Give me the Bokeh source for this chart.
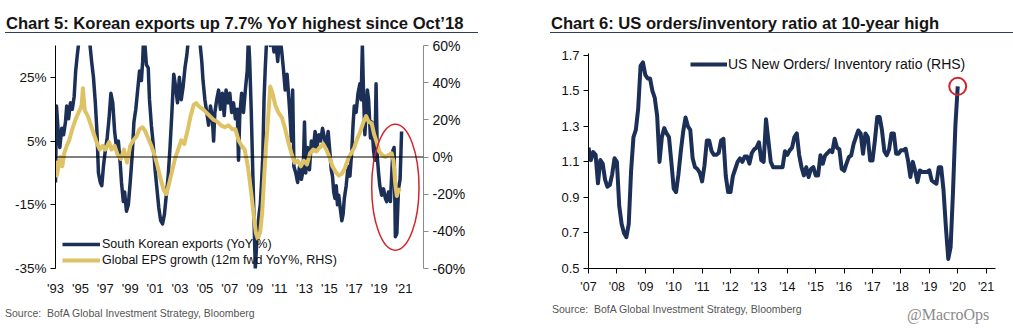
from bokeh.plotting import figure
from bokeh.models import (Range1d, LinearAxis, FixedTicker, PrintfTickFormatter, Span,
                          Legend, LegendItem, Div, ColumnDataSource)
from bokeh.layouts import row, column
from bokeh.embed import file_html
from bokeh.resources import INLINE

# ---------------- Chart 5 data ----------------
kr_dates = [1993.00, 1993.08, 1993.25, 1993.35, 1993.5, 1993.65, 1993.8, 1993.9, 1994.05, 1994.2,
            1994.35, 1994.5, 1994.62, 1994.75, 1994.87, 1995.0, 1995.15, 1995.3, 1995.45, 1995.6,
            1995.75, 1995.9, 1996.05, 1996.2, 1996.33, 1996.45, 1996.6, 1996.72, 1996.85, 1997.0,
            1997.15, 1997.3, 1997.45, 1997.6, 1997.75, 1997.9, 1998.05, 1998.2, 1998.3, 1998.45,
            1998.55, 1998.7, 1998.85, 1999.0, 1999.15, 1999.3, 1999.45, 1999.6, 1999.75, 1999.9,
            2000.0, 2000.08, 2000.17, 2000.3, 2000.45, 2000.55, 2000.7, 2000.85, 2001.0, 2001.15,
            2001.3, 2001.45, 2001.6, 2001.75, 2001.9, 2002.05, 2002.2, 2002.35, 2002.5, 2002.65,
            2002.8, 2002.95, 2003.1, 2003.25, 2003.4, 2003.55, 2003.7, 2003.85, 2004.0, 2004.15,
            2004.3, 2004.45, 2004.6, 2004.75, 2004.85, 2005.0, 2005.15, 2005.3, 2005.45, 2005.6,
            2005.7, 2005.8, 2005.95, 2006.1, 2006.25, 2006.4, 2006.55, 2006.7, 2006.85, 2007.0,
            2007.15, 2007.3, 2007.45, 2007.6, 2007.7, 2007.8, 2007.95, 2008.1, 2008.25, 2008.4,
            2008.5, 2008.6, 2008.72, 2008.85, 2008.95, 2009.05, 2009.15, 2009.25, 2009.35, 2009.45,
            2009.55, 2009.65, 2009.75, 2009.85, 2009.95, 2010.1, 2010.25, 2010.4, 2010.55, 2010.7,
            2010.85, 2011.0, 2011.15, 2011.3, 2011.45, 2011.6, 2011.75, 2011.85, 2011.95, 2012.05,
            2012.15, 2012.3, 2012.45, 2012.6, 2012.75, 2012.9, 2013.0, 2013.1, 2013.25, 2013.4,
            2013.55, 2013.7, 2013.85, 2014.0, 2014.15, 2014.3, 2014.45, 2014.6, 2014.75, 2014.9,
            2015.05, 2015.15, 2015.25, 2015.35, 2015.45, 2015.55, 2015.65, 2015.75, 2015.9, 2016.0,
            2016.1, 2016.2, 2016.35, 2016.5, 2016.65, 2016.8, 2016.9, 2017.0, 2017.15, 2017.3,
            2017.45, 2017.55, 2017.65, 2017.75, 2017.85, 2017.95, 2018.05, 2018.15, 2018.3, 2018.4,
            2018.55, 2018.65, 2018.75, 2018.85, 2018.95, 2019.05, 2019.2, 2019.35, 2019.5, 2019.6,
            2019.75, 2019.9, 2020.0, 2020.1, 2020.2, 2020.3, 2020.42, 2020.55, 2020.68, 2020.8]
kr_exports = [-8, 16, 6, 3, 9, 7, 11, 16, 12, 17,
              15, 19, 27, 32, 36, 40, 37, 41, 38, 40,
              36, 30, 25, 17, 8, -5, -8, -9, -3, 2,
              6, 12, 20, 17, 8, 3, 5, -2, -8, -14,
              -11, -17, -15, -8, 0, 11, 15, 21, 27, 24,
              30, 38, 36, 29, 28, 18, 10, 4, -4, -10,
              -16, -20, -21, -18, -12, -6, 3, 14, 26, 22,
              17, 25, 18, 22, 28, 32, 38, 40, 37, 42,
              40, 38, 36, 30, 24, 18, 14, 10, 16, 12,
              5, 14, 18, 21, 15, 20, 13, 21, 17, 20,
              14, 17, 12, 15, -1, 13, 20, 14, 21, 27,
              38, 30, 15, -5, -20, -35, -28, -22, -18, -15,
              -8, 0, 18, 28, 36, 40, 35, 38, 33, 36,
              30, 38, 34, 28, 21, 26, 18, 12, 5, 21,
              -3, -5, -8, -3, -7, -4, 11, -5, 3, -4,
              5, 2, 8, 3, 7, 5, 9, 6, 3, 8,
              1, -4, -6, -11, -13, -9, -15, -12, -17, -20,
              -18, -13, -9, -3, -6, 2, 10, 16, 14, 20,
              23, 18, 35, 19, 7, 14, 21, 18, 6, 11,
              2, -1, 23, 0, -5, -9, -12, -10, -13, -14,
              -11, -14, -6, 2, 3, -25, -24, -10, -7, 8]

eps_dates = [1993.0, 1993.1, 1993.25, 1993.4, 1993.55, 1993.7, 1993.9, 1994.1, 1994.35, 1994.6,
             1994.85, 1995.0, 1995.1, 1995.2, 1995.35, 1995.6, 1995.85, 1996.05, 1996.3, 1996.55,
             1996.8, 1997.0, 1997.3, 1997.5, 1997.75, 1998.0, 1998.25, 1998.5, 1998.75, 1999.0,
             1999.25, 1999.5, 1999.75, 2000.0, 2000.2, 2000.45, 2000.7, 2000.95, 2001.2, 2001.45,
             2001.7, 2001.9, 2002.1, 2002.35, 2002.6, 2002.85, 2003.1, 2003.35, 2003.6, 2003.85,
             2004.1, 2004.3, 2004.55, 2004.8, 2005.1, 2005.4, 2005.7, 2006.0, 2006.3, 2006.6,
             2006.9, 2007.2, 2007.45, 2007.7, 2007.95, 2008.2, 2008.45, 2008.7, 2008.9, 2009.1,
             2009.25, 2009.45, 2009.6, 2009.75, 2009.9, 2010.05, 2010.25, 2010.45, 2010.65, 2010.9,
             2011.2, 2011.45, 2011.7, 2011.95, 2012.2, 2012.45, 2012.7, 2012.95, 2013.2, 2013.45,
             2013.7, 2013.95, 2014.2, 2014.5, 2014.75, 2015.0, 2015.25, 2015.5, 2015.75, 2016.0,
             2016.25, 2016.5, 2016.75, 2017.0, 2017.25, 2017.5, 2017.75, 2017.95, 2018.15, 2018.4,
             2018.6, 2018.8, 2019.0, 2019.25, 2019.5, 2019.75, 2020.0, 2020.15, 2020.3, 2020.42,
             2020.55, 2020.7]
eps_growth = [-2, -10, -5, 0, -5, 2, 6, 9, 15, 20,
              24, 26, 28, 37, 25, 22, 17, 13, 8, 4,
              6, 4, 8, 4, 6, 1, -1, 4, -3, 6,
              9, 11, 15, 16, 14, 10, 6, 1, -5, -12,
              -18, -20, -15, -8, -1, 4, 9, 7, 14, 22,
              28, 29, 27, 26, 24, 22, 20, 19, 17, 16,
              17, 15, 15, 9, 6, 4, -5, -18, -30, -41,
              -44, -40, -30, -12, 5, 18, 38, 34, 28, 24,
              21, 15, 8, 2, -3, -2, -5, -2, -4, 2,
              4, 3, 5, 7, 4, 0, -5, -8, -10, -9,
              -6, -1, 2, 5, 10, 14, 19, 22, 19, 18,
              12, 8, 3, 1, 0, 1, 2, -2, -15, -21,
              -18, -17]

left_ticks = [-35, -15, 5, 25]
right_ticks = [-60, -40, -20, 0, 20, 40, 60]
left_year_ticks = [1993, 1995, 1997, 1999, 2001, 2003, 2005, 2007, 2009, 2011, 2013, 2015, 2017, 2019, 2021]
left_year_labels = ["'93", "'95", "'97", "'99", "'01", "'03", "'05", "'07", "'09", "'11", "'13", "'15", "'17", "'19", "'21"]

# ---------------- Chart 6 data (monthly from Jan 2007) ----------------
us_start_year = 2007
us_ratio = [1.18, 1.11, 1.155, 1.14, 0.98, 1.11, 1.09, 1.00, 0.96, 0.97, 1.03, 1.12,
            1.10, 0.85, 0.75, 0.70, 0.676, 0.75, 1.05, 1.24, 1.28, 1.40, 1.64, 1.66,
            1.59, 1.57, 1.57, 1.50, 1.46, 1.36, 1.10, 1.24, 1.29, 1.26, 1.24, 1.10,
            0.95, 0.93, 1.03, 1.16, 1.27, 1.35, 1.30, 1.28, 1.12, 1.07, 1.06, 1.04,
            0.99, 1.08, 1.22, 1.22, 1.16, 1.14, 1.14, 1.15, 1.22, 1.23, 1.02, 0.93,
            0.93, 1.02, 1.06, 1.10, 1.12, 1.10, 1.13, 1.13, 1.09, 1.15, 1.17, 1.18,
            1.21, 1.11, 1.10, 1.34, 1.22, 1.10, 1.07, 1.07, 1.07, 1.07, 1.07, 1.16,
            1.14, 1.165, 1.18, 1.24, 1.26, 1.14, 1.07, 1.024, 1.07, 1.015, 1.06, 1.07,
            1.024, 1.024, 1.137, 1.09, 1.137, 1.15, 1.165, 1.155, 1.23, 1.18, 1.17, 1.06,
            1.05, 1.09, 1.127, 1.137, 1.20, 1.24, 1.277, 1.26, 1.146, 1.26, 1.24, 1.108,
            1.108, 1.22, 1.353, 1.353, 1.277, 1.16, 1.137, 1.17, 1.26, 1.26, 1.146, 1.146,
            1.165, 1.165, 1.174, 1.108, 1.015, 1.10, 1.05, 0.986, 1.052, 1.043, 1.043, 1.043,
            1.052, 0.996, 0.986, 0.977, 1.07, 1.07, 0.94, 0.733, 0.554, 0.62, 0.93, 1.30,
            1.525]
us_dates = [us_start_year + i / 12 for i in range(len(us_ratio))]
us_y_ticks = [0.5, 0.7, 0.9, 1.1, 1.3, 1.5, 1.7]
us_year_ticks = list(range(2007, 2022))
us_year_labels = ["'07", "'08", "'09", "'10", "'11", "'12", "'13", "'14", "'15", "'16", "'17", "'18", "'19", "'20", "'21"]

BLUE = "#1b2f57"
GOLD = "#dfc266"
RED = "#d0262d"
FONT = "Liberation Sans"

# ---------------- Chart 5 ----------------
p1 = figure(width=500, height=264, output_backend="svg", toolbar_location=None,
            x_range=Range1d(1993, 2022.56), y_range=Range1d(-35, 35),
            min_border_left=55, min_border_right=77, min_border_top=9, min_border_bottom=32,
            x_axis_location=None, y_axis_location=None)
p1.outline_line_color = None
p1.xgrid.visible = False
p1.ygrid.visible = False
p1.extra_y_ranges = {"eps": Range1d(-60, 60)}

ax_l = LinearAxis(ticker=FixedTicker(ticks=left_ticks), formatter=PrintfTickFormatter(format="%d%%"))
ax_r = LinearAxis(y_range_name="eps", ticker=FixedTicker(ticks=right_ticks), formatter=PrintfTickFormatter(format="%d%%"))
ax_b = LinearAxis(ticker=FixedTicker(ticks=left_year_ticks),
                  major_label_overrides={t: s for t, s in zip(left_year_ticks, left_year_labels)})
for ax in (ax_l, ax_r, ax_b):
    ax.minor_tick_line_color = None
    ax.major_tick_in = 0
    ax.major_tick_out = 5
    ax.major_label_text_font = FONT
    ax.major_label_text_color = "#111111"
    ax.major_label_text_font_size = "13.5px"
    ax.major_label_standoff = 4
ax_l.axis_line_color = "#000000"
ax_l.major_tick_line_color = "#000000"
ax_r.axis_line_color = "#8c8c8c"
ax_r.major_tick_line_color = "#8c8c8c"
ax_r.major_label_text_font_size = "14px"
ax_b.axis_line_color = None
ax_b.major_tick_line_color = None
ax_b.major_tick_out = 0
ax_b.major_label_standoff = 12
ax_b.major_label_text_font_size = "13px"
p1.add_layout(ax_l, "left")
p1.add_layout(ax_r, "right")
p1.add_layout(ax_b, "below")

p1.add_layout(Span(location=0, dimension="width", line_color="#000000", line_width=1))

src_kr = ColumnDataSource(dict(x=kr_dates, y=kr_exports))
src_eps = ColumnDataSource(dict(x=eps_dates, y=eps_growth))
r_kr = p1.line("x", "y", source=src_kr, line_color=BLUE, line_width=3.5, line_join="round")
r_eps = p1.line("x", "y", source=src_eps, y_range_name="eps", line_color=GOLD, line_width=4, line_join="round")

# red highlight ellipse (annotation around the latest readings)
ell_x, ell_y, ell_w, ell_h = 2020.3, -9.5, 3.8, 39.5
p1.ellipse(x=[ell_x], y=[ell_y], width=[ell_w], height=[ell_h], fill_color=None,
           line_color=RED, line_width=1.5)

leg1 = Legend(items=[LegendItem(label="South Korean exports (YoY %)", renderers=[r_kr]),
                     LegendItem(label="Global EPS growth (12m fwd YoY%, RHS)", renderers=[r_eps])],
              location=(7, 0), padding=0, margin=0, spacing=0,
              glyph_width=38, glyph_height=16, label_height=16, label_standoff=2,
              label_text_font=FONT, label_text_font_size="12.5px", label_text_color="#111111",
              background_fill_alpha=0, border_line_color=None)
p1.add_layout(leg1)

# ---------------- Chart 6 ----------------
p2 = figure(width=513, height=264, output_backend="svg", toolbar_location=None,
            x_range=Range1d(2007, 2021.33), y_range=Range1d(0.5, 1.71),
            min_border_left=88, min_border_right=18, min_border_top=17, min_border_bottom=32,
            x_axis_location=None, y_axis_location=None)
p2.outline_line_color = None
p2.xgrid.visible = False
p2.ygrid.visible = False
ay = LinearAxis(ticker=FixedTicker(ticks=us_y_ticks), formatter=PrintfTickFormatter(format="%.1f"))
axx = LinearAxis(ticker=FixedTicker(ticks=us_year_ticks),
                 major_label_overrides={t: s for t, s in zip(us_year_ticks, us_year_labels)})
for ax in (ay, axx):
    ax.minor_tick_line_color = None
    ax.major_tick_in = 0
    ax.major_tick_out = 5
    ax.axis_line_color = "#000000"
    ax.major_tick_line_color = "#000000"
    ax.major_label_text_font = FONT
    ax.major_label_text_color = "#111111"
    ax.major_label_text_font_size = "13px"
    ax.major_label_standoff = 4
axx.major_label_standoff = 6
axx.major_label_text_font_size = "12.5px"
p2.add_layout(ay, "left")
p2.add_layout(axx, "below")

src_us = ColumnDataSource(dict(x=us_dates, y=us_ratio))
r_us = p2.line("x", "y", source=src_us, line_color=BLUE, line_width=4, line_join="round")
p2.scatter(x=[us_dates[-1]], y=[us_ratio[-1]], size=17, marker="circle", fill_color=None,
           line_color=RED, line_width=2)
leg2 = Legend(items=[LegendItem(label="US New Orders/ Inventory ratio (RHS)", renderers=[r_us])],
              location=(102, 196), padding=0, margin=0, spacing=0,
              glyph_width=37, glyph_height=16, label_height=16, label_standoff=1,
              label_text_font=FONT, label_text_font_size="14px", label_text_color="#111111",
              background_fill_alpha=0, border_line_color=None)
p2.add_layout(leg2)

# ---------------- titles / footers ----------------
def title_div(text, width, left, line_w):
    html = (f'<div style="position:relative;width:{width}px;height:36px;">'
            f'<div style="position:absolute;left:{left}px;top:0;width:{line_w}px;height:33px;'
            f'border-bottom:1px solid #2d3f5f;"></div>'
            f'<span style="position:absolute;left:{left + 1}px;top:16px;line-height:16px;white-space:nowrap;'
            f"font-family:'Liberation Sans Narrow','Liberation Sans';font-weight:bold;font-size:16.6px;"
            f'color:#151515;">{text}</span></div>')
    return Div(text=html, width=width, height=36, margin=(0, 0, 0, 0))

def source_div(width, left, top, extra=""):
    html = (f'<div style="position:relative;width:{width}px;height:31px;">'
            f'<span style="position:absolute;left:{left}px;top:{top}px;line-height:14px;'
            f"white-space:nowrap;font-family:'Liberation Sans';font-size:10.5px;color:#555555;\">"
            f'Source:&nbsp; BofA Global Investment Strategy, Bloomberg</span>{extra}</div>')
    return Div(text=html, width=width, height=31, margin=(0, 0, 0, 0))

t1 = title_div("Chart 5: Korean exports up 7.7% YoY highest since Oct\u201918", 500, 5, 473)
t2 = title_div("Chart 6: US orders/inventory ratio at 10-year high", 513, 50, 463)
wm = ('<span style="position:absolute;left:407px;top:6px;line-height:18px;white-space:nowrap;'
      "font-family:'Liberation Serif';font-size:16px;color:#8a8a8a;\">@MacroOps</span>")
s1 = source_div(500, 5, 6)
s2 = source_div(513, 52, 2, wm)

layout = row(column(t1, p1, s1, spacing=0), column(t2, p2, s2, spacing=0), spacing=0)
open("out.html", "w").write(file_html(layout, INLINE))
